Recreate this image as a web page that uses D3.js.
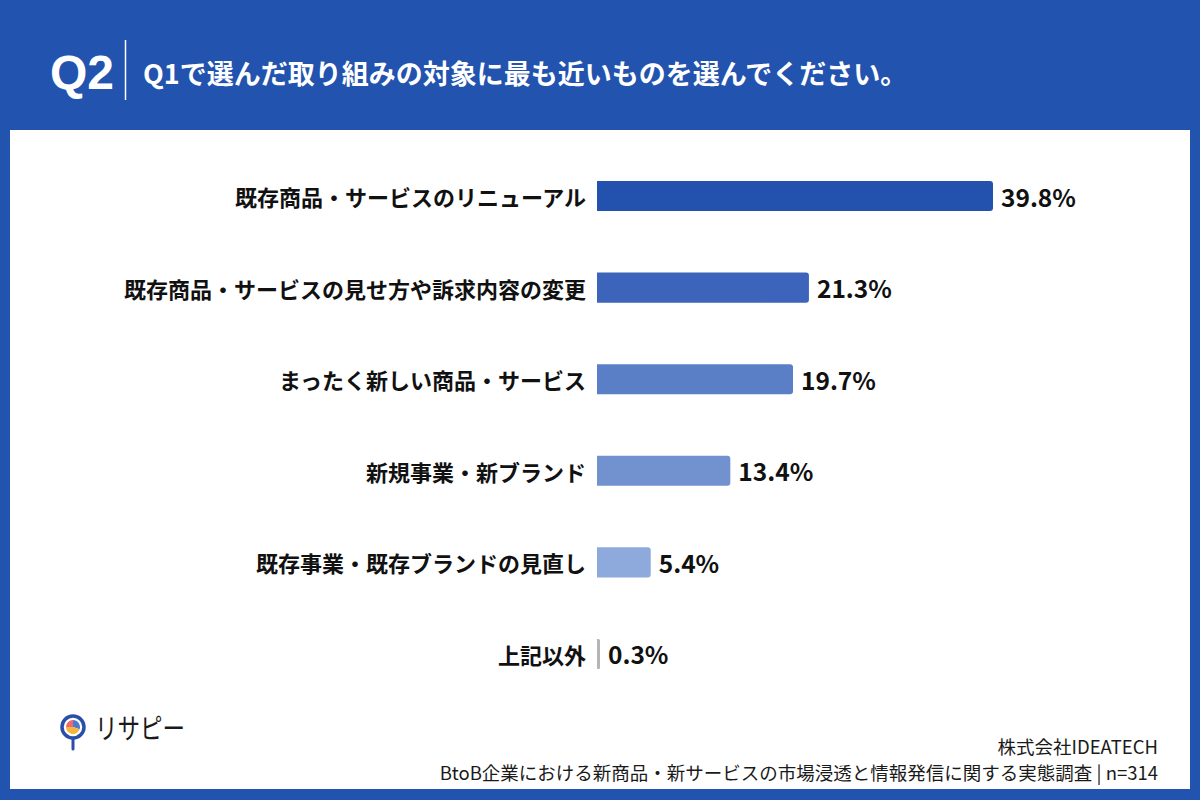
<!DOCTYPE html>
<html>
<head>
<meta charset="utf-8">
<script src="https://cdn.jsdelivr.net/npm/d3@7"></script>
<style>
  html, body { margin: 0; padding: 0; background: #2253ae; }
  svg { display: block; }
</style>
</head>
<body>
<div id="chart"></div>
<script>
// data
const categories = [
    "既存商品・サービスのリニューアル",
    "既存商品・サービスの見せ方や訴求内容の変更",
    "まったく新しい商品・サービス",
    "新規事業・新ブランド",
    "既存事業・既存ブランドの見直し",
    "上記以外"
];
const values = [39.8, 21.3, 19.7, 13.4, 5.4, 0.3];
const barColors = ["#2252ad", "#3c64ba", "#5a7fc7", "#7192cf", "#8eaadd", "#b5b5b8"];

const questionNo = "Q2";
const questionText = "Q1で選んだ取り組みの対象に最も近いものを選んでください。";
const sourceLines = [
    "株式会社IDEATECH",
    "BtoB企業における新商品・新サービスの市場浸透と情報発信に関する実態調査 | n=314"
];

const width = 1200;
const height = 800;
const blue = "#2253ae";
const font = "'Noto Sans CJK JP', 'Noto Sans', sans-serif";

const svg = d3.select("#chart")
    .append("svg")
    .attr("width", width)
    .attr("height", height);

// background + white panel
svg.append("rect")
    .attr("width", width)
    .attr("height", height)
    .attr("fill", blue);

svg.append("rect")
    .attr("x", 10)
    .attr("y", 130)
    .attr("width", 1180)
    .attr("height", 659)
    .attr("fill", "#ffffff");

// header
svg.append("text")
    .attr("x", 50)
    .attr("y", 72)
    .attr("dominant-baseline", "central")
    .attr("fill", "#ffffff")
    .style("font-family", "'Liberation Sans', Arial, sans-serif")
    .style("font-weight", "bold")
    .style("font-size", "48px")
    .text(questionNo);

svg.append("line")
    .attr("x1", 125.5)
    .attr("x2", 125.5)
    .attr("y1", 40)
    .attr("y2", 100)
    .attr("stroke", "#ffffff")
    .attr("stroke-width", 1.5);

svg.append("text")
    .attr("x", 143)
    .attr("y", 72)
    .attr("dominant-baseline", "central")
    .attr("fill", "#ffffff")
    .style("font-family", font)
    .style("font-weight", "bold")
    .style("font-size", "27px")
    .text(questionText);

// scales
const x = d3.scaleLinear()
    .domain([0, 40])
    .range([597, 995]);

const y = d3.scaleBand()
    .domain(categories)
    .range([181, 669])
    .paddingInner(0.672)
    .paddingOuter(0);

const rows = categories.map((c, i) => ({ label: c, value: values[i], color: barColors[i] }));

const g = svg.append("g");

// bars: squared on the left, slightly rounded on the right
g.selectAll(".bar")
    .data(rows)
    .enter()
    .append("path")
    .attr("class", "bar")
    .attr("fill", d => d.color)
    .attr("d", d => {
        const x0 = x(0);
        const w = Math.max(x(d.value) - x0, 3);
        const y0 = y(d.label);
        const h = y.bandwidth();
        const r = Math.min(3, w / 2);
        const p = d3.path();
        p.moveTo(x0, y0);
        p.lineTo(x0 + w - r, y0);
        p.quadraticCurveTo(x0 + w, y0, x0 + w, y0 + r);
        p.lineTo(x0 + w, y0 + h - r);
        p.quadraticCurveTo(x0 + w, y0 + h, x0 + w - r, y0 + h);
        p.lineTo(x0, y0 + h);
        p.closePath();
        return p.toString();
    });

// category labels
g.selectAll(".cat")
    .data(rows)
    .enter()
    .append("text")
    .attr("class", "cat")
    .attr("x", 586)
    .attr("y", d => y(d.label) + y.bandwidth() / 2)
    .attr("text-anchor", "end")
    .attr("dominant-baseline", "central")
    .attr("fill", "#111111")
    .style("font-family", font)
    .style("font-weight", "bold")
    .style("font-size", "22px")
    .text(d => d.label);

// value labels
g.selectAll(".val")
    .data(rows)
    .enter()
    .append("text")
    .attr("class", "val")
    .attr("x", d => Math.max(x(d.value), x(0) + 3) + 8)
    .attr("y", d => y(d.label) + y.bandwidth() / 2)
    .attr("dominant-baseline", "central")
    .attr("fill", "#111111")
    .style("font-family", font)
    .style("font-weight", "bold")
    .style("font-size", "24.5px")
    .text(d => d.value.toFixed(1) + "%");

// logo
const logo = svg.append("g").attr("transform", "translate(73,727)");
logo.append("line")
    .attr("x1", 0).attr("x2", 0)
    .attr("y1", 10).attr("y2", 22)
    .attr("stroke", "#2a4fa8")
    .attr("stroke-width", 3)
    .attr("stroke-linecap", "round");
logo.append("circle")
    .attr("r", 11)
    .attr("fill", "#ffffff")
    .attr("stroke", "#2a4fa8")
    .attr("stroke-width", 3.5);
const pie = d3.pie().sort(null)([0.3, 0.45, 0.25]);
const arc = d3.arc().innerRadius(0).outerRadius(7);
logo.selectAll(".slice")
    .data(pie)
    .enter()
    .append("path")
    .attr("d", arc)
    .attr("fill", (d, i) => ["#4c7bd0", "#f4b63c", "#ef6a6a"][i]);

svg.append("text")
    .attr("x", 95)
    .attr("y", 727)
    .attr("dominant-baseline", "central")
    .attr("fill", "#1a1a1a")
    .attr("textLength", 90)
    .attr("lengthAdjust", "spacingAndGlyphs")
    .style("font-family", font)
    .style("font-size", "28px")
    .text("リサピー");

// source
svg.selectAll(".src")
    .data(sourceLines)
    .enter()
    .append("text")
    .attr("class", "src")
    .attr("x", 1158)
    .attr("y", (d, i) => 746 + i * 26)
    .attr("text-anchor", "end")
    .attr("dominant-baseline", "central")
    .attr("fill", "#1a1a1a")
    .style("font-family", font)
    .style("font-size", "18.5px")
    .text(d => d);
</script>
</body>
</html>
